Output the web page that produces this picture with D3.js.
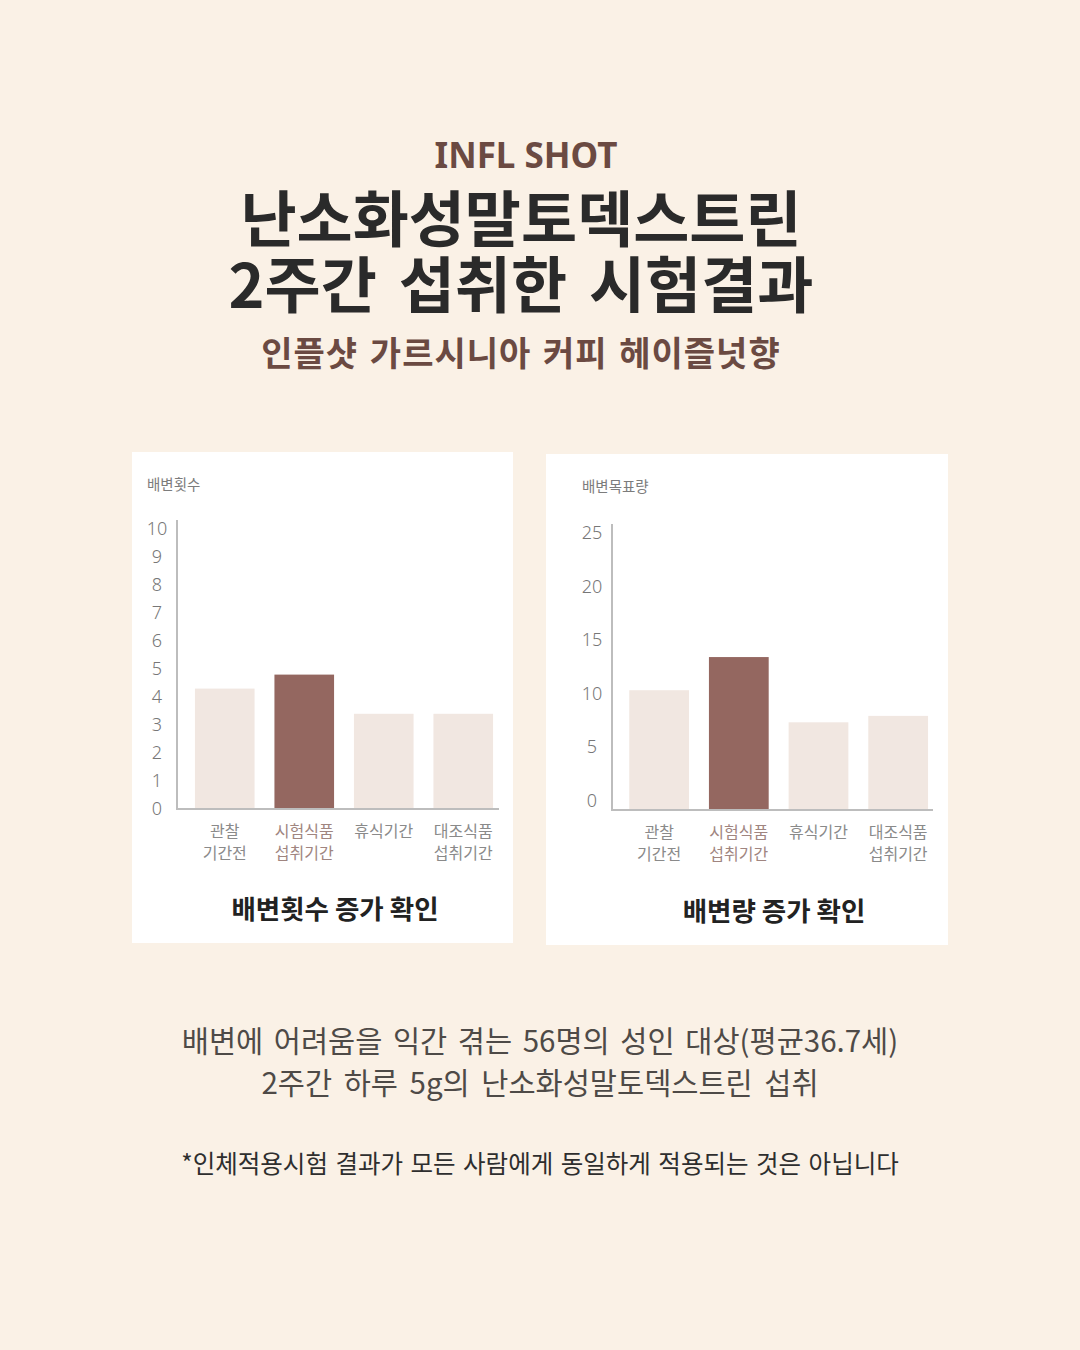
<!DOCTYPE html>
<html><head><meta charset="utf-8">
<script src="https://cdn.jsdelivr.net/npm/d3@7"></script>
<style>
html,body{margin:0;padding:0;background:#FAF1E6;}
svg{display:block;}
</style></head>
<body>
<svg id="c" width="1080" height="1350"></svg>
<script>
// ---- data ----
const categories = [["관찰","기간전"],["시험식품","섭취기간"],["휴식기간"],["대조식품","섭취기간"]];
const countValues = [4.3, 4.8, 3.4, 3.4];
const volumeValues = [10.3, 13.4, 7.3, 7.9];
const countTicks = [0,1,2,3,4,5,6,7,8,9,10];
const volumeTicks = [0,5,10,15,20,25];
const highlightIndex = 1;

const KR = "'Noto Sans CJK KR','Noto Sans KR',sans-serif";
const svg = d3.select("#c");
svg.append("rect").attr("width",1080).attr("height",1350).attr("fill","#FAF1E6");

// ---- header ----
svg.append("text").attr("x",526).attr("y",168).attr("text-anchor","middle")
  .attr("font-family","'Noto Sans',"+KR).attr("font-weight",700).attr("font-size",35)
  .attr("fill","#6B4A42").text("INFL SHOT");
const titleLines = ["난소화성말토덱스트린","2주간 섭취한 시험결과"];
titleLines.forEach((t,i)=>{
  svg.append("text").attr("x",521).attr("y",242+i*66).attr("text-anchor","middle")
    .attr("font-family",KR).attr("font-weight",700).attr("font-size",61)
    .attr("letter-spacing",0).attr("word-spacing",i===1?8:0).attr("fill","#2A2A2A").text(t);
});
svg.append("text").attr("x",521).attr("y",366).attr("text-anchor","middle")
  .attr("font-family",KR).attr("font-weight",700).attr("font-size",34)
  .attr("letter-spacing",1).attr("word-spacing",3).attr("fill","#6B4A42").text("인플샷 가르시니아 커피 헤이즐넛향");

// ---- panels ----
const panels = [
  {x:132,y:452,w:381,h:491, values:countValues, ticks:countTicks, domain:[0,10],
   yRange:[809,529], base:809, axisX:177, axisEnd:499, band:[185,503], tickX:157,
   yLabel:"배변횟수", yLabelX:147, yLabelY:490, caption:"배변횟수 증가 확인", capX:335, capY:919},
  {x:546,y:454,w:402,h:491, values:volumeValues, ticks:volumeTicks, domain:[-0.9,25],
   yRange:[810,533], base:810, axisX:612, axisEnd:933, band:[619.3,938], tickX:592,
   yLabel:"배변목표량", yLabelX:582, yLabelY:492, caption:"배변량 증가 확인", capX:774, capY:921}
];

panels.forEach(p=>{
  const g = svg.append("g");
  g.append("rect").attr("x",p.x).attr("y",p.y).attr("width",p.w).attr("height",p.h).attr("fill","#FFFFFF");
  const x = d3.scaleBand().domain(d3.range(categories.length)).range(p.band).paddingInner(0.25).paddingOuter(0.125);
  const y = d3.scaleLinear().domain(p.domain).range(p.yRange);
  const top = y(p.domain[1]);

  g.selectAll(".bar").data(p.values).join("rect")
    .attr("x",(d,i)=>x(i)).attr("width",x.bandwidth())
    .attr("y",d=>y(d)).attr("height",d=>p.base - y(d))
    .attr("fill",(d,i)=> i===highlightIndex ? "#946760" : "#F1E7E1");

  // axes lines
  g.append("line").attr("x1",p.axisX).attr("x2",p.axisX).attr("y1",top-9).attr("y2",p.base+1)
    .attr("stroke","#BDBDBD").attr("stroke-width",2);
  g.append("line").attr("x1",p.axisX).attr("x2",p.axisEnd).attr("y1",p.base).attr("y2",p.base)
    .attr("stroke","#BDBDBD").attr("stroke-width",2);

  // y tick labels via axis
  const ax = g.append("g").attr("transform",`translate(${p.tickX},0)`)
    .call(d3.axisLeft(y).tickValues(p.ticks).tickSize(0).tickPadding(0).tickFormat(d3.format("d")));
  ax.select(".domain").remove();
  ax.selectAll("text").attr("text-anchor","middle").attr("x",0)
    .attr("font-family","'Noto Sans',Lato,sans-serif").attr("font-weight",300)
    .attr("font-size",18).attr("fill","#777777");

  g.append("text").attr("x",p.yLabelX).attr("y",p.yLabelY)
    .attr("font-family",KR).attr("font-size",14.5).attr("fill","#7C7C7C").text(p.yLabel);

  // x labels
  categories.forEach((lines,i)=>{
    const t = g.append("text").attr("x",x(i)+x.bandwidth()/2).attr("y",p.base+28)
      .attr("text-anchor","middle").attr("font-family",KR).attr("font-size",16)
      .attr("fill", i===highlightIndex ? "#A08580" : "#8A8A8A");
    lines.forEach((l,j)=>t.append("tspan").attr("x",x(i)+x.bandwidth()/2).attr("dy", j===0?0:22).text(l));
  });

  g.append("text").attr("x",p.capX).attr("y",p.capY).attr("text-anchor","middle")
    .attr("font-family",KR).attr("font-weight",700).attr("font-size",26.5)
    .attr("fill","#222").text(p.caption);
});

// ---- footer ----
const notes = ["배변에 어려움을 익간 겪는 56명의 성인 대상(평균36.7세)","2주간 하루 5g의 난소화성말토덱스트린 섭취"];
notes.forEach((t,i)=>{
  svg.append("text").attr("x",540).attr("y",1052+i*42).attr("text-anchor","middle")
    .attr("font-family",KR).attr("font-weight",400).attr("font-size",29.5)
    .attr("word-spacing", i===0?4:5).attr("fill","#4E4A47").text(t);
});
svg.append("text").attr("x",540).attr("y",1173).attr("text-anchor","middle")
  .attr("font-family",KR).attr("font-weight",400).attr("font-size",24.5)
  .attr("word-spacing",2).attr("fill","#2E2E2E").text("*인체적용시험 결과가 모든 사람에게 동일하게 적용되는 것은 아닙니다");
</script>
</body></html>
